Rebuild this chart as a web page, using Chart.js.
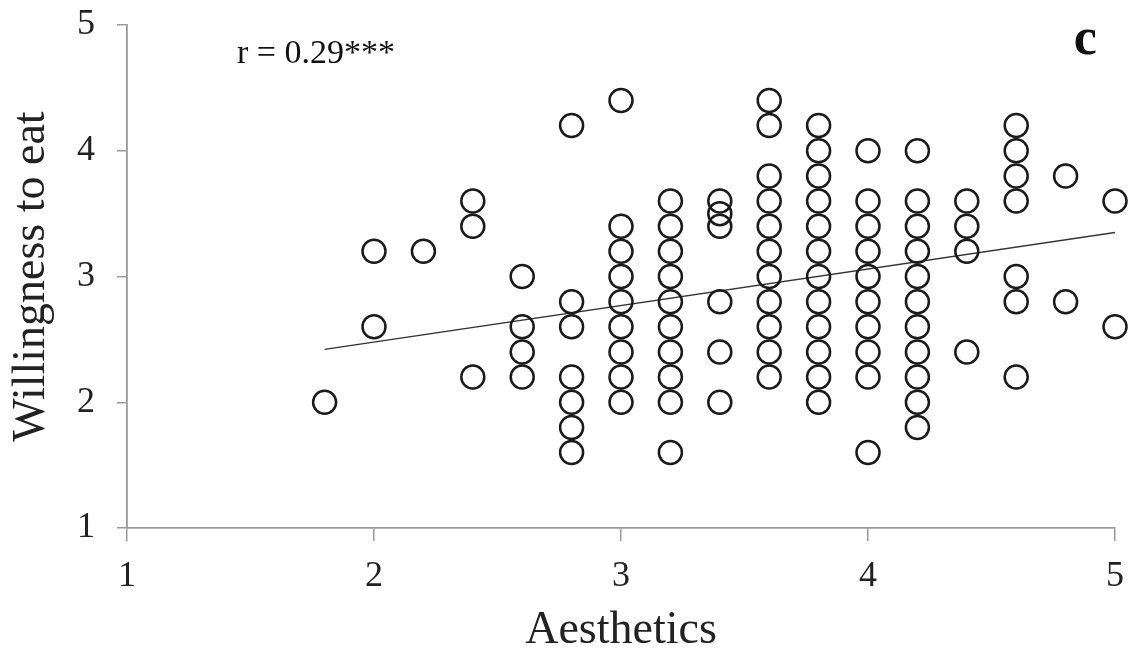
<!DOCTYPE html>
<html>
<head>
<meta charset="utf-8">
<script src="https://cdn.jsdelivr.net/npm/chart.js@4"></script>
<style>
  html, body { margin: 0; padding: 0; background: #fff; }
  #wrap { width: 1134px; height: 659px; }
</style>
</head>
<body>
<div id="wrap"><canvas id="scatterChart" width="1134" height="659"></canvas></div>
<script>
// aesthetics score of each column of points
const aestheticsCols = [1.8, 2.0, 2.2, 2.4, 2.6, 2.8, 3.0, 3.2, 3.4, 3.6, 3.8, 4.0, 4.2, 4.4, 4.6, 4.8, 5.0];
// willingness to eat values found in each column
const willingnessCols = [
    [2.0],
    [3.2, 2.6],
    [3.2],
    [3.6, 3.4, 2.2],
    [3.0, 2.6, 2.4, 2.2],
    [4.2, 2.8, 2.6, 2.2, 2.0, 1.8, 1.6],
    [4.4, 3.4, 3.2, 3.0, 2.8, 2.6, 2.4, 2.2, 2.0],
    [3.6, 3.4, 3.2, 3.0, 2.8, 2.6, 2.4, 2.2, 2.0, 1.6],
    [3.6, 3.5, 3.4, 2.8, 2.4, 2.0],
    [4.4, 4.2, 3.8, 3.6, 3.4, 3.2, 3.0, 2.8, 2.6, 2.4, 2.2],
    [4.2, 4.0, 3.8, 3.6, 3.4, 3.2, 3.0, 2.8, 2.6, 2.4, 2.2, 2.0],
    [4.0, 3.6, 3.4, 3.2, 3.0, 2.8, 2.6, 2.4, 2.2, 1.6],
    [4.0, 3.6, 3.4, 3.2, 3.0, 2.8, 2.6, 2.4, 2.2, 2.0, 1.8],
    [3.6, 3.4, 3.2, 2.4],
    [4.2, 4.0, 3.8, 3.6, 3.0, 2.8, 2.2],
    [3.8, 2.8],
    [3.6, 2.6]
];
// trend line end points
const fitX = [1.8, 5.0];
const fitY = [2.42, 3.35];
const axisTicks = [1, 2, 3, 4, 5];
const corrLabel = 'r = 0.29***';
const panelLabel = 'c';

const points = [];
aestheticsCols.forEach(function(x, i) {
    willingnessCols[i].forEach(function(y) {
        points.push({ x: x, y: y });
    });
});
const fitLine = fitX.map(function(x, i) { return { x: x, y: fitY[i] }; });

const serif = "'Liberation Serif', 'Times New Roman', serif";
const axisGray = '#9a9a9a';

// extra text on the plot
const notesPlugin = {
    id: 'notes',
    afterDatasetsDraw: function(chart) {
        const ctx = chart.ctx;
        const xs = chart.scales.x, ys = chart.scales.y;
        ctx.save();
        ctx.fillStyle = '#111';
        ctx.textBaseline = 'middle';
        ctx.textAlign = 'left';
        ctx.font = '34px ' + serif;
        ctx.fillText(corrLabel, xs.getPixelForValue(1.445), ys.getPixelForValue(4.77));
        ctx.font = 'bold 52px ' + serif;
        ctx.textAlign = 'center';
        ctx.fillText(panelLabel, xs.getPixelForValue(4.88), ys.getPixelForValue(4.88));
        ctx.restore();
    }
};

new Chart(document.getElementById('scatterChart'), {
    type: 'scatter',
    data: {
        datasets: [
            {
                data: points,
                pointStyle: 'circle',
                pointRadius: 11.5,
                pointHoverRadius: 11.5,
                pointBorderWidth: 2.5,
                borderColor: '#1a1a1a',
                backgroundColor: 'rgba(0,0,0,0)',
                clip: false
            },
            {
                type: 'line',
                data: fitLine,
                borderColor: '#333',
                borderWidth: 1.3,
                pointRadius: 0,
                fill: false
            }
        ]
    },
    options: {
        responsive: false,
        animation: false,
        layout: { padding: { top: 25, right: 19, left: 0, bottom: 0 } },
        plugins: { legend: { display: false }, tooltip: { enabled: false } },
        scales: {
            x: {
                type: 'linear',
                min: 1, max: 5,
                afterFit: function(s) { s.height = 131; s.paddingLeft = 0; s.paddingRight = 0; },
                afterBuildTicks: function(s) { s.ticks = axisTicks.map(function(v) { return { value: v }; }); },
                ticks: { color: '#222', padding: 14, font: { family: serif, size: 36 } },
                grid: { drawOnChartArea: false, drawTicks: true, tickLength: 13, color: axisGray, lineWidth: 1.5 },
                border: { display: true, color: axisGray, width: 1.8 },
                title: { display: true, text: 'Aesthetics', color: '#222', font: { family: serif, size: 46 }, padding: { top: 0, bottom: 0 } }
            },
            y: {
                type: 'linear',
                min: 1, max: 5,
                afterFit: function(s) { s.width = 127; s.paddingTop = 0; s.paddingBottom = 0; },
                afterBuildTicks: function(s) { s.ticks = axisTicks.map(function(v) { return { value: v }; }); },
                ticks: { color: '#222', padding: 22, font: { family: serif, size: 36 } },
                grid: { drawOnChartArea: false, drawTicks: true, tickLength: 10, color: axisGray, lineWidth: 1.5 },
                border: { display: true, color: axisGray, width: 1.8 },
                title: { display: true, text: 'Willingness to eat', color: '#222', font: { family: serif, size: 46 }, padding: { top: 4, bottom: 0 } }
            }
        }
    },
    plugins: [notesPlugin]
});
</script>
</body>
</html>
